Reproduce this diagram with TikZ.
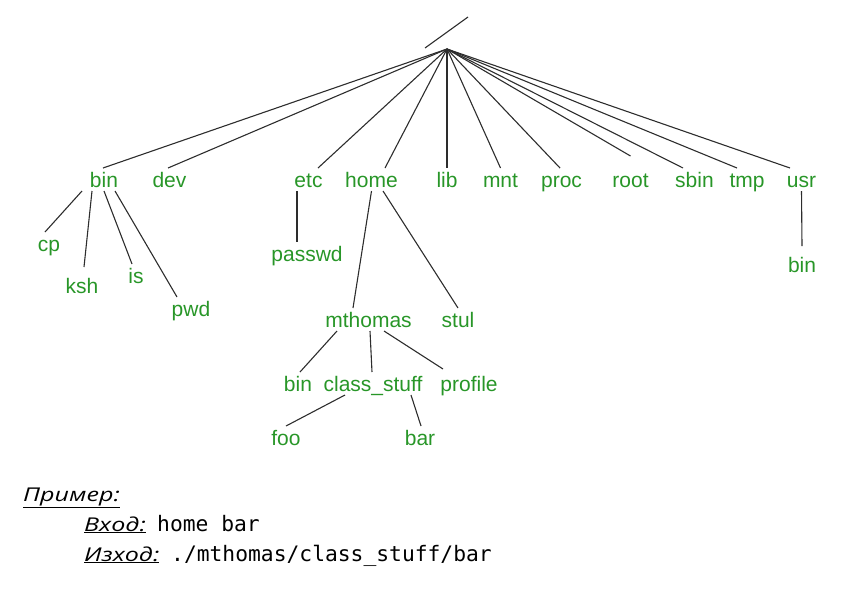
\documentclass[tikz,border=0pt]{standalone}
\usepackage{fontspec}
\setmainfont{Liberation Sans}
\newfontfamily\italfont[FakeStretch=1.32]{Open Sans}
\newfontfamily\monofont{DejaVu Sans Mono}
\usetikzlibrary{calc}
\definecolor{dirgreen}{RGB}{40,150,40}
\definecolor{edgegray}{RGB}{45,45,45}
\begin{document}
\begin{tikzpicture}[x=1pt,y=-1pt,
  dirnode/.style={anchor=base,inner sep=0pt,outer sep=4pt,text height=15pt,text depth=0pt,
    text=dirgreen,font=\fontsize{21}{25}\selectfont},
  edge/.style={draw=edgegray,line width=1.1pt},
  caption/.style={anchor=base west,inner sep=0pt,font=\italfont\itshape\fontsize{19}{23}\selectfont},
  code/.style={anchor=base west,inner sep=0pt,font=\monofont\fontsize{21.3}{25}\selectfont}]
\useasboundingbox (0,0) rectangle (861,595);
% root and slash
\coordinate (root) at (447,49);
\coordinate (sla) at (425,48);
\coordinate (slb) at (468,17);
\draw[edge] (sla) -- (slb);
% top level
\node[dirnode] (bin)  at (104,187) {bin};
\node[dirnode] (dev)  at (169.5,187) {dev};
\node[dirnode] (etc)  at (308.5,187) {etc};
\node[dirnode] (home) at (371.5,187) {home};
\node[dirnode] (lib)  at (447,187) {lib};
\node[dirnode] (mnt)  at (500.5,187) {mnt};
\node[dirnode] (proc) at (561.5,187) {proc};
\node[dirnode] (rootd) at (630.5,187) {root};
\node[dirnode] (sbin) at (694.5,187) {sbin};
\node[dirnode] (tmp)  at (747,187) {tmp};
\node[dirnode] (usr)  at (801.5,187) {usr};
% bin children
\node[dirnode] (cp)  at (49,251) {cp};
\node[dirnode] (ksh) at (82,293) {ksh};
\node[dirnode] (is)  at (136,283) {is};
\node[dirnode] (pwd) at (191,316) {pwd};
% etc, usr children
\node[dirnode] (passwd) at (307,261) {passwd};
\node[dirnode] (ubin) at (802,272) {bin};
% home children
\node[dirnode] (mthomas) at (368.5,327) {mthomas};
\node[dirnode] (stul) at (458,327) {stul};
% mthomas children
\node[dirnode] (mbin) at (298,391) {bin};
\node[dirnode] (cls) at (373,391) {class\_stuff};
\node[dirnode] (profile) at (469,391) {profile};
% class_stuff children
\node[dirnode] (foo) at (286,445) {foo};
\node[dirnode] (bar) at (420,445) {bar};
% edges from root
\draw[edge] (root) -- ([xshift=-1pt]bin.north);
\draw[edge] (root) -- ([xshift=-1.5pt]dev.north);
\draw[edge] (root) -- ([xshift=9.5pt]etc.north);
\draw[edge] (root) -- ([xshift=13.5pt]home.north);
\draw[edge] (root) -- (lib.north);
\draw[edge] (root) -- (mnt.north);
\draw[edge] (root) -- ([xshift=-1.5pt]proc.north);
\draw[edge] (root) -- ([yshift=12pt]rootd.north);
\draw[edge] (root) -- ([xshift=-11.5pt]sbin.north);
\draw[edge] (root) -- ([xshift=-10pt]tmp.north);
\draw[edge] (root) -- ([xshift=-11.5pt]usr.north);
% bin edges
\draw[edge] ([xshift=-22pt]bin.south) -- ([xshift=-4pt]cp.north);
\draw[edge] ([xshift=-12pt]bin.south) -- ([xshift=2pt,yshift=7pt]ksh.north);
\draw[edge] (bin.south) -- ([xshift=-4pt]is.north);
\draw[edge] ([xshift=11pt]bin.south) -- ([xshift=-14pt]pwd.north);
% etc, usr
\draw[edge] ([xshift=-11.5pt]etc.south) -- ([xshift=-10pt]passwd.north);
\draw[edge] (usr.south) -- ([yshift=7pt]ubin.north);
% home
\draw[edge] (home.south) -- ([xshift=-15.5pt]mthomas.north);
\draw[edge] ([xshift=11.5pt]home.south) -- (stul.north);
% mthomas
\draw[edge] ([xshift=-31.5pt]mthomas.south) -- ([xshift=2pt]mbin.north);
\draw[edge] ([xshift=1.5pt]mthomas.south) -- ([xshift=-1pt]cls.north);
\draw[edge] ([xshift=15.5pt]mthomas.south) -- ([xshift=-26pt,yshift=3pt]profile.north);
% class_stuff
\draw[edge] ([xshift=-28pt]cls.south) -- (foo.north);
\draw[edge] ([xshift=38pt]cls.south) -- ([xshift=1pt]bar.north);
% example text
\node[caption] (ex) at (23,501) {\underline{Пример:}};
\node[caption] (in) at (84,531) {\underline{Вход:}};
\node[code] (inv) at (157,531) {home bar};
\node[caption] (out) at (84,561) {\underline{Изход:}};
\node[code] (outv) at (171,561) {./mthomas/class\_stuff/bar};
\end{tikzpicture}
\end{document}
